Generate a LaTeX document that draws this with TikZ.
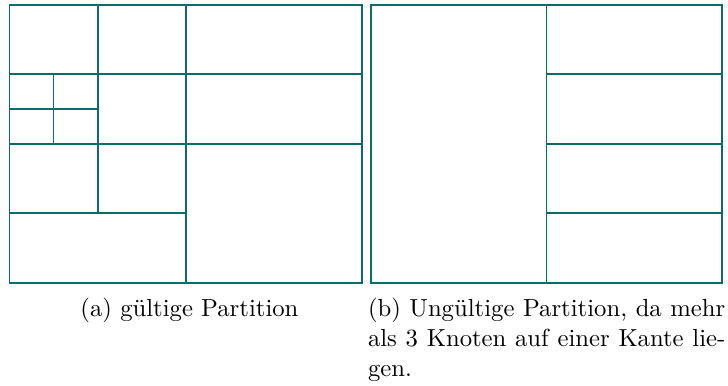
\documentclass[tikz,border=0pt]{standalone}
\usepackage{fontspec}
\definecolor{partline}{RGB}{8,108,106}
\begin{document}
\begin{tikzpicture}[x=0.4049pt,y=-0.4049pt,
  part/.style={draw=partline,line width=0.8pt},
  captext/.style={inner sep=0pt,anchor=base west,font=\fontsize{10}{12}\selectfont}]
\useasboundingbox (0,0) rectangle (728,385);
% (a) valid partition
\draw[part] (9.5,5) rectangle (362,282.6);
\draw[part] (9.5,74.4) -- (362,74.4);
\draw[part] (9.5,143.8) -- (362,143.8);
\draw[part] (9.5,213.2) -- (185.8,213.2);
\draw[part] (9.5,109.1) -- (97.6,109.1);
\draw[part] (97.6,5) -- (97.6,213.2);
\draw[part] (185.8,5) -- (185.8,282.6);
\draw[part] (53.5,74.4) -- (53.5,143.8);
% (b) invalid partition
\draw[part] (370.7,5) rectangle (722.3,282.6);
\draw[part] (546.5,5) -- (546.5,282.6);
\draw[part] (546.5,74.4) -- (722.3,74.4);
\draw[part] (546.5,143.8) -- (722.3,143.8);
\draw[part] (546.5,213.2) -- (722.3,213.2);
% captions
\node[captext] (capa) at (80,316) {(a) gültige Partition};
\node[captext] (capb1) at (367.5,316) {\makebox[144.7pt][s]{(b) Ungültige Partition, da mehr}};
\node[captext] (capb2) at (367.5,346) {\makebox[144.7pt][s]{als 3 Knoten auf einer Kante lie-}};
\node[captext] (capb3) at (367.5,376) {gen.};
\end{tikzpicture}
\end{document}
